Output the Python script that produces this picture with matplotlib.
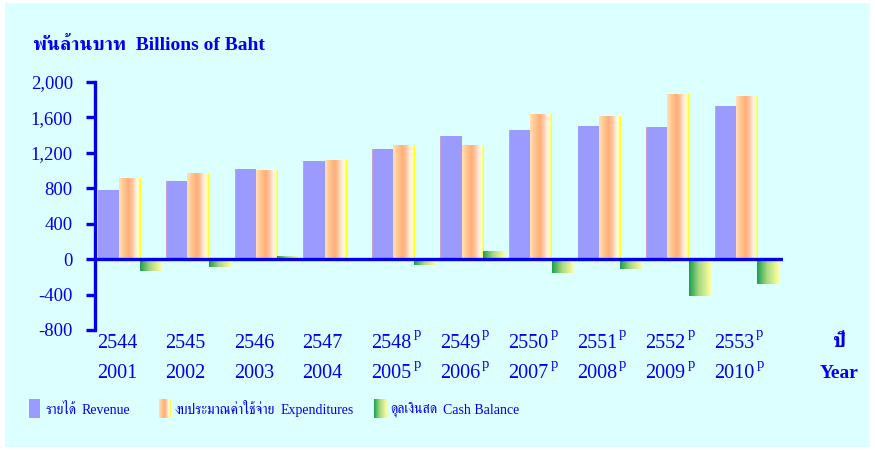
import matplotlib
matplotlib.use('Agg')
import matplotlib.pyplot as plt
import numpy as np
from matplotlib.colors import LinearSegmentedColormap
from matplotlib.patches import Rectangle
import matplotlib.transforms as mtransforms

# ---- data ----
thai_years = ['2544', '2545', '2546', '2547', '2548', '2549', '2550', '2551', '2552', '2553']
ce_years = ['2001', '2002', '2003', '2004', '2005', '2006', '2007', '2008', '2009', '2010']
preliminary = [False, False, False, False, True, True, True, True, True, True]
revenue = [780, 882, 1017, 1107, 1243, 1390, 1458, 1503, 1492, 1729]
expenditures = [904, 960, 994, 1107, 1277, 1277, 1627, 1605, 1853, 1830]
cash_balance = [-132, -87, 26, 0, -64, 82, -155, -110, -415, -279]
yticks = [-800, -400, 0, 400, 800, 1200, 1600, 2000]
ytick_labels = ['-800', '-400', '0', '400', '800', '1,200', '1,600', '2,000']
legend_thai = ['รายได้', 'งบประมาณค่าใช้จ่าย', 'ดุลเงินสด']
legend_eng = ['Revenue', 'Expenditures', 'Cash Balance']

BLUE = '#0000EE'
BG = '#DCFFFF'
plt.rcParams['font.family'] = ['Liberation Serif', 'FreeSerif']

W, H = 875, 450
fig = plt.figure(figsize=(W / 100, H / 100), dpi=100)
fig.patch.set_facecolor('white')
fig.patches.append(Rectangle((5 / W, 3 / H), 865 / W, 444 / H, transform=fig.transFigure,
                             facecolor=BG, edgecolor='none', zorder=-10))

def px(x0, y0, x1, y1):
    return [x0 / W, 1 - y1 / H, (x1 - x0) / W, (y1 - y0) / H]

ax = fig.add_axes(px(95, 82, 783, 330))
ax.set_facecolor('none')

gap = 68.67
w = 21.3 / gap
x = np.arange(len(revenue))

exp_cmap = LinearSegmentedColormap.from_list('exp', [
    (0.0, '#FFE0B8'), (0.2, '#FFC890'), (0.45, '#FFAE7A'), (0.62, '#FFC8A0'),
    (0.78, '#FFEDE8'), (0.9, '#FFFFC0'), (0.95, '#FFFF60'), (1.0, '#FFFF00')])
cash_cmap = LinearSegmentedColormap.from_list('cash', [
    (0.0, '#1AA04C'), (0.45, '#A8D880'), (1.0, '#FFFFA0')])
grad = np.linspace(0, 1, 64).reshape(1, -1)

ax.bar(x - w, revenue, width=w, color='#9B9BFF', edgecolor='none', zorder=2)
ax.bar(x - 1.5 * w + 0.006, revenue, width=0.012, color='#C8A0D8', edgecolor='none', zorder=3)

def gradient_bars(xs, vals, cmap):
    bars = ax.bar(xs, vals, width=w, color='none', edgecolor='none', zorder=2)
    for b in bars:
        x0, y0, bw, bh = b.get_x(), b.get_y(), b.get_width(), b.get_height()
        if bh == 0:
            continue
        y_lo, y_hi = (y0, y0 + bh) if bh > 0 else (y0 + bh, y0)
        ax.imshow(grad, cmap=cmap, extent=[x0, x0 + bw, y_lo, y_hi], aspect='auto',
                  interpolation='bilinear', zorder=2)
    return bars

gradient_bars(x, expenditures, exp_cmap)
gradient_bars(x + w, cash_balance, cash_cmap)
ax.set_xlim((95 - 129.5) / gap, (784 - 129.5) / gap)
ax.set_ylim(-800, 2000)

ax.axhline(0, color=BLUE, lw=2.4, zorder=4)
for s in ['top', 'right', 'bottom']:
    ax.spines[s].set_visible(False)
ax.spines['left'].set_color(BLUE)
ax.spines['left'].set_linewidth(2.4)
ax.spines['left'].set_zorder(5)
ax.set_xticks([])
ax.set_yticks(yticks)
ax.set_yticklabels(ytick_labels)
ax.tick_params(axis='y', direction='out', length=6.5, width=2.4, color=BLUE,
               labelcolor=BLUE, labelsize=13.5, pad=9.5)

# x labels (two rows)
trans = mtransforms.blended_transform_factory(ax.transData, fig.transFigure)
for i in range(len(x)):
    xl = x[i] - 1.5 * w - 0.01
    for lab, yy in ((thai_years[i], 343), (ce_years[i], 374)):
        t = ax.text(xl, 1 - yy / H, lab, transform=trans, ha='left', va='center',
                    color=BLUE, fontsize=14.5, clip_on=False)
        if preliminary[i]:
            ax.annotate('p', xy=(1, 1), xycoords=t, xytext=(1.5, 5),
                        textcoords='offset points', ha='left', va='top',
                        color=BLUE, fontsize=10.5, annotation_clip=False)

fig.text(839 / W, 1 - 342 / H, 'ปี', ha='center', va='center', color=BLUE,
         fontsize=15, fontweight='bold')
fig.text(839 / W, 1 - 374 / H, 'Year', ha='center', va='center', color=BLUE,
         fontsize=14, fontweight='bold')

fig.text(33 / W, 1 - 45 / H, 'พันล้านบาท  Billions of Baht', ha='left', va='center',
         color=BLUE, fontsize=14, fontweight='bold')

# legend
def legend_patch(x0, x1, kind):
    lax = fig.add_axes(px(x0, 399, x1, 418))
    lax.set_axis_off()
    if kind == 'solid':
        lax.add_patch(Rectangle((0, 0), 1, 1, color='#9B9BFF', transform=lax.transAxes))
    else:
        lax.imshow(grad, cmap=kind, aspect='auto', extent=[0, 1, 0, 1],
                   interpolation='bilinear')
        lax.set_xlim(0, 1)
        lax.set_ylim(0, 1)

legend_patch(29, 40, 'solid')
legend_patch(159, 171, exp_cmap)
legend_patch(374, 387, cash_cmap)
thai_x = [45, 175, 390]
for tx, tl, el in zip(thai_x, legend_thai, legend_eng):
    t = fig.text(tx / W, 1 - 410 / H, tl, ha='left', va='center', color=BLUE, fontsize=10)
    fig.text(1, 0.5, el, transform=mtransforms.offset_copy(
        mtransforms.BboxTransformTo(t.get_window_extent(fig.canvas.get_renderer())),
        fig=fig, x=4, y=-0.7, units='points'),
        ha='left', va='center', color=BLUE, fontsize=10)

fig.savefig('out.png', dpi=100, facecolor=fig.get_facecolor())
